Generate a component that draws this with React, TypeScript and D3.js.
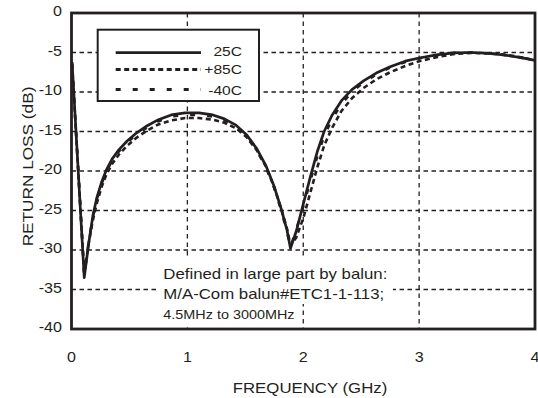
import React from "react";
import * as d3 from "d3";

const FREQ = [0.005, 0.11, 0.15, 0.185, 0.22, 0.26, 0.3, 0.35, 0.41, 0.48, 0.56, 0.65, 0.75, 0.86, 0.98, 1.1, 1.22, 1.32, 1.42, 1.51, 1.6, 1.68, 1.75, 1.81, 1.86, 1.89, 1.94, 2.0, 2.06, 2.12, 2.18, 2.25, 2.33, 2.42, 2.52, 2.63, 2.75, 2.88, 3.0, 3.15, 3.3, 3.45, 3.6, 3.75, 3.88, 4.0];
const RL_25C = [-6.2, -33.5, -29.0, -25.6, -23.3, -21.4, -19.9, -18.5, -17.3, -16.2, -15.2, -14.3, -13.5, -12.9, -12.65, -12.65, -12.9, -13.4, -14.2, -15.4, -17.2, -19.4, -22.0, -24.8, -27.5, -29.8, -27.6, -24.2, -20.8, -17.6, -15.0, -12.9, -11.1, -9.7, -8.6, -7.6, -6.8, -6.1, -5.7, -5.3, -5.05, -5.0, -5.1, -5.35, -5.65, -6.0];
const RL_85C = [-6.5, -33.0, -29.0, -26.2, -24.0, -22.0, -20.5, -19.1, -17.9, -16.8, -15.8, -14.9, -14.1, -13.6, -13.3, -13.3, -13.5, -13.9, -14.6, -15.7, -17.4, -19.5, -22.1, -24.8, -27.3, -29.4, -28.4, -26.0, -22.8, -19.6, -16.8, -14.5, -12.4, -10.8, -9.5, -8.4, -7.5, -6.7, -6.1, -5.6, -5.2, -5.05, -5.1, -5.3, -5.6, -6.0];
const RL_M40C = [-6.4, -33.2, -28.8, -25.8, -23.5, -21.6, -20.1, -18.7, -17.5, -16.4, -15.4, -14.5, -13.7, -13.1, -12.9, -12.9, -13.1, -13.6, -14.4, -15.6, -17.4, -19.6, -22.2, -25.0, -27.7, -29.6, -27.4, -24.5, -21.3, -18.2, -15.6, -13.4, -11.5, -10.0, -8.8, -7.8, -6.9, -6.2, -5.75, -5.35, -5.05, -5.0, -5.1, -5.35, -5.65, -6.0];

const X_TICKS = [0, 1, 2, 3, 4];
const Y_TICKS = [0, -5, -10, -15, -20, -25, -30, -35, -40];
const SERIES_NAMES = ["25C", "+85C", "-40C"];
const NOTE_LINES = ["Defined in large part by balun:", "M/A-Com balun#ETC1-1-113;", "4.5MHz to 3000MHz"];

const INK = "#231f20";
const FONT = "'Liberation Sans', Arial, Helvetica, sans-serif";

export default function App() {
  const W = 538, H = 398;
  const x = d3.scaleLinear().domain([0, 4]).range([71.5, 535]);
  const y = d3.scaleLinear().domain([0, -40]).range([13, 329]);
  const line = d3.line<number>().x((_, i) => x(FREQ[i])).y((d) => y(d)).curve(d3.curveLinear);

  const series = [
    { name: SERIES_NAMES[0], values: RL_25C, dash: "none", width: 2.7 },
    { name: SERIES_NAMES[1], values: RL_85C, dash: "5,3.5", width: 2.6 },
    { name: SERIES_NAMES[2], values: RL_M40C, dash: "5,12", width: 2.6 },
  ];
  const legendY = [52.7, 69.5, 89.5];
  const labelY = [56.3, 74.3, 95];
  const sx = 1.2;

  return (
    <svg width={W} height={H} style={{ position: "absolute", left: 0, top: 0, background: "#fff" }} fontFamily={FONT}>
      <rect x={0} y={0} width={W} height={H} fill="#fff" />
      {/* grid */}
      {Y_TICKS.filter((t) => t !== 0 && t !== -40).map((t) => (
        <line key={"gy" + t} x1={x(0)} x2={x(4)} y1={y(t)} y2={y(t)} stroke={INK} strokeWidth={1.3} strokeDasharray="4.5,3.5" />
      ))}
      {X_TICKS.filter((t) => t !== 0 && t !== 4).map((t) => (
        <line key={"gx" + t} x1={x(t)} x2={x(t)} y1={y(0)} y2={y(-40)} stroke={INK} strokeWidth={1.3} strokeDasharray="4.5,4" />
      ))}
      {/* annotation backgrounds */}
      <rect x={157} y={258} width={236} height={46} fill="#fff" />
      <rect x={157} y={303} width={142} height={24} fill="#fff" />
      {/* curves */}
      {series.map((s) => (
        <path key={s.name} d={line(s.values) || ""} fill="none" stroke={INK} strokeWidth={s.width} strokeDasharray={s.dash} strokeLinejoin="round" />
      ))}
      {/* frame */}
      <rect x={x(0)} y={y(0)} width={x(4) - x(0)} height={y(-40) - y(0)} fill="none" stroke={INK} strokeWidth={2.8} />
      {/* legend */}
      <rect x={97.7} y={29.7} width={161.3} height={71.3} fill="#fff" stroke={INK} strokeWidth={2} />
      {series.map((s, i) => (
        <g key={"lg" + s.name}>
          <line x1={115.7} x2={201} y1={legendY[i]} y2={legendY[i]} stroke={INK} strokeWidth={i === 0 ? 2.8 : 3} strokeDasharray={s.dash} />
          <text transform={`translate(242,${labelY[i]}) scale(${sx},1)`} textAnchor="end" fontSize={13} fill={INK}>
            {s.name}
          </text>
        </g>
      ))}
      {/* annotation text */}
      <text transform={`translate(163.3,278.5) scale(${sx},1)`} fontSize={14} fill={INK}>{NOTE_LINES[0]}</text>
      <text transform={`translate(163.3,298.5) scale(${sx},1)`} fontSize={14} fill={INK}>{NOTE_LINES[1]}</text>
      <text transform={`translate(163.3,318.5) scale(${sx},1)`} fontSize={12} fill={INK}>{NOTE_LINES[2]}</text>
      {/* y tick labels */}
      {Y_TICKS.map((t) => (
        <text key={"yl" + t} transform={`translate(62,${y(t) + 3.2}) scale(1.15,1)`} textAnchor="end" fontSize={14} fill={INK}>
          {t}
        </text>
      ))}
      {/* x tick labels */}
      {X_TICKS.map((t) => (
        <text key={"xl" + t} transform={`translate(${x(t)},361.5) scale(1.15,1)`} textAnchor="middle" fontSize={14} fill={INK}>
          {t}
        </text>
      ))}
      {/* axis titles */}
      <text transform={`translate(310,393) scale(${sx},1)`} textAnchor="middle" fontSize={14} fill={INK}>
        FREQUENCY (GHz)
      </text>
      <text transform={`translate(32.5,166.5) rotate(-90) scale(1.23,1)`} textAnchor="middle" fontSize={14} fill={INK}>
        RETURN LOSS (dB)
      </text>
    </svg>
  );
}
